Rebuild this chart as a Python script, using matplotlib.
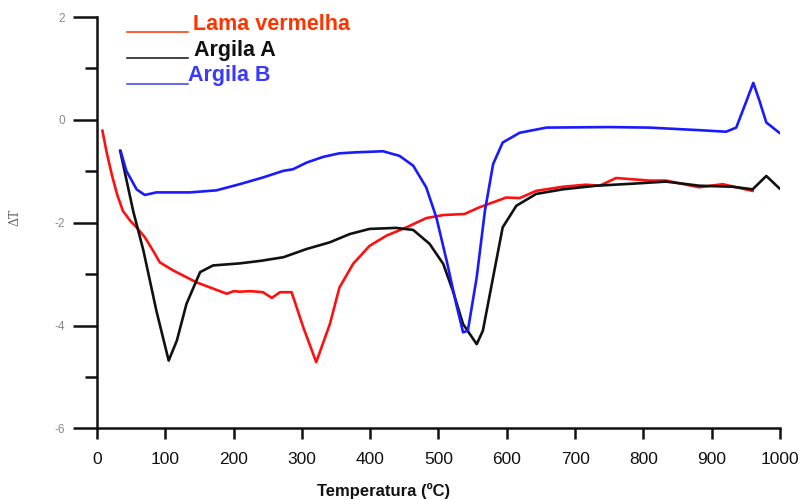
import matplotlib
matplotlib.use("Agg")
import matplotlib.pyplot as plt
from matplotlib.lines import Line2D

plt.rcParams["font.family"] = ["Liberation Sans", "DejaVu Sans"]

# Lama vermelha (red mud)
red_T = [8, 14, 22, 30, 38, 48, 58, 70, 82, 92, 112, 146, 190, 200, 209, 225, 243,
         256, 268, 285, 302, 321, 341, 355, 375, 399, 424, 453, 482, 507, 538, 560,
         599, 619, 643, 682, 716, 736, 760, 809, 833, 882, 916, 936, 960]
red_v = [-0.21, -0.62, -1.08, -1.47, -1.77, -1.95, -2.09, -2.28, -2.54, -2.77, -2.93,
         -3.16, -3.38, -3.33, -3.34, -3.33, -3.35, -3.46, -3.35, -3.35, -4.03, -4.71,
         -3.97, -3.26, -2.80, -2.45, -2.25, -2.09, -1.91, -1.85, -1.83, -1.70, -1.51,
         -1.52, -1.38, -1.30, -1.26, -1.28, -1.13, -1.18, -1.18, -1.31, -1.25, -1.31,
         -1.38]

# Argila A
argA_T = [34, 53, 68, 87, 105, 117, 131, 151, 170, 209, 240, 273, 307, 341, 370, 399,
          438, 463, 487, 507, 521, 536, 556, 565, 580, 594, 614, 643, 682, 731, 785,
          833, 882, 931, 960, 980, 999]
argA_v = [-0.60, -1.77, -2.54, -3.71, -4.68, -4.29, -3.58, -2.96, -2.83, -2.79, -2.74,
          -2.67, -2.51, -2.38, -2.22, -2.12, -2.10, -2.14, -2.41, -2.80, -3.32, -3.97,
          -4.36, -4.10, -3.06, -2.09, -1.67, -1.44, -1.35, -1.28, -1.24, -1.20, -1.28,
          -1.30, -1.35, -1.09, -1.33]

# Argila B
argB_T = [35, 43, 58, 70, 87, 136, 175, 209, 243, 273, 287, 307, 331, 355, 380, 419,
          443, 463, 482, 497, 512, 526, 536, 543, 556, 568, 580, 594, 619, 658, 750,
          809, 882, 921, 936, 951, 961, 970, 980, 999]
argB_v = [-0.62, -0.99, -1.35, -1.46, -1.41, -1.41, -1.37, -1.25, -1.12, -0.99, -0.96,
          -0.83, -0.72, -0.65, -0.63, -0.61, -0.70, -0.89, -1.31, -1.90, -2.74, -3.58,
          -4.13, -4.10, -3.06, -1.77, -0.86, -0.44, -0.25, -0.15, -0.14, -0.15, -0.20,
          -0.23, -0.15, 0.37, 0.72, 0.37, -0.05, -0.25]

x_ticks = list(range(0, 1001, 100))
y_major = [-6, -4, -2, 0, 2]
y_minor = [-5, -3, -1, 1]

fig = plt.figure(figsize=(8.06, 4.99), dpi=100)
ax = fig.add_axes([0.1203, 0.1413, 0.8474, 0.8246])

ax.plot(red_T, red_v, color="#ff1010", linewidth=1.9, solid_joinstyle="round")
ax.plot(argA_T, argA_v, color="#111111", linewidth=1.9, solid_joinstyle="round")
ax.plot(argB_T, argB_v, color="#1a1aff", linewidth=1.9, solid_joinstyle="round")

ax.set_xlim(0, 1000)
ax.set_ylim(-6, 2)
ax.spines["top"].set_visible(False)
ax.spines["right"].set_visible(False)
for s in ("left", "bottom"):
    ax.spines[s].set_linewidth(1.8)
    ax.spines[s].set_color("#111111")

ax.set_xticks(x_ticks)
ax.set_xticklabels([str(t) for t in x_ticks])
ax.set_yticks(y_major)
ax.set_yticks(y_minor, minor=True)
ax.set_yticklabels([str(t) for t in y_major])

ax.tick_params(axis="x", direction="out", length=8, width=1.8, pad=9,
               labelsize=12.5, colors="#111111")
ax.tick_params(axis="y", which="major", direction="out", length=17, width=1.8,
               pad=6, labelsize=8.5, labelcolor="#8a8a8a", color="#111111")
ax.tick_params(axis="y", which="minor", direction="out", length=8.5, width=1.8,
               color="#111111")

fig.text(0.476, 0.016, "Temperatura (ºC)", ha="center", va="center",
         fontsize=12, fontweight="bold", color="#111111")
fig.text(15 / 806, 1 - 217 / 499, "ΔT", rotation=90, ha="center", va="center",
         fontsize=9, color="#666666", family=["DejaVu Serif"])

# legend drawn as in the original: a short line followed by coloured text
legend = [
    ("Lama vermelha", "#ff3300", 193, 30, 31.7),
    ("Argila A", "#111111", 194, 55.7, 57.7),
    ("Argila B", "#3a3aff", 188, 81, 84),
]
for label, col, x_px, base_px, line_px in legend:
    fig.text(x_px / 806, 1 - base_px / 499, label, ha="left", va="baseline",
             fontsize=15.5, fontweight="bold", color=col)
    fig.add_artist(Line2D([127 / 806, 188 / 806], [1 - line_px / 499] * 2,
                          transform=fig.transFigure, color=col, linewidth=1.1))

fig.savefig("out.png", dpi=100)
